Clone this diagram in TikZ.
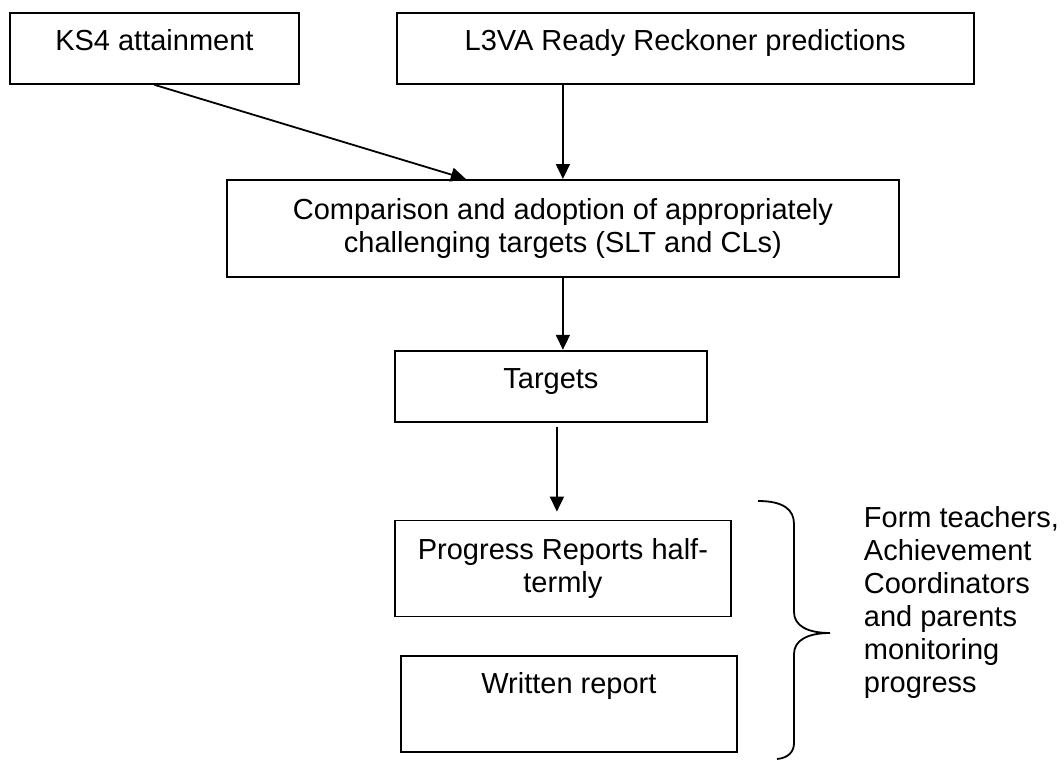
\documentclass[tikz,border=0pt]{standalone}
\usepackage{fontspec}
\setmainfont{Liberation Sans}
\usetikzlibrary{arrows.meta,positioning}

\tikzset{
  box/.style={draw, rectangle, line width=1.8pt, inner sep=0pt, align=center,
    anchor=north west, font=\fontsize{29pt}{33pt}\selectfont},
  oneline/.style={text height=21pt, text depth=16pt}
}

\begin{document}
\begin{tikzpicture}[x=1pt, y=-1pt, line width=1.8pt,
    >={Triangle[length=15pt,width=14pt]}]
      \useasboundingbox (0,0) rectangle (1064,760);

      \node[box, oneline, minimum width=289pt, minimum height=71pt] (ks4) at (9,12) {KS4 attainment};
      \node[box, oneline, minimum width=577pt, minimum height=71pt, right=96pt of ks4.north east, anchor=north west] (l3va) {L3VA Ready Reckoner predictions};

      \node[box, minimum width=672pt, minimum height=97pt] (cmp) at (226,179) {Comparison and adoption of appropriately\\challenging targets (SLT and CLs)};

      \node[box, oneline, minimum width=312pt, minimum height=71pt, below=72pt of cmp.south west, anchor=north west, xshift=168pt] (tgt) {Targets};

      \node[box, minimum width=336pt, minimum height=96pt, below=97pt of tgt.south west, anchor=north west] (prog) {Progress Reports half-\\termly};
      \node[box, minimum width=336pt, minimum height=96pt, below=38pt of prog.south west, anchor=north west, xshift=6pt] (writ) {Written report\\\strut};

      \node[anchor=north west, inner sep=0pt, align=left, font=\fontsize{29pt}{33pt}\selectfont] (who) at (863,506) {Form teachers,\\Achievement\\Coordinators\\and parents\\monitoring\\progress};

      \draw[->] (ks4.south) -- ([xshift=-97pt]cmp.north);
      \draw[->] (l3va.south -| cmp.north) -- (cmp.north);
      \draw[->] (cmp.south) -- (cmp.south |- tgt.north);
      \draw[->] ([xshift=6pt,yshift=-4pt]tgt.south) -- ([xshift=-6pt,yshift=8pt]prog.north);

      \draw (758,501) .. controls (784,501) and (794,510) .. (794,524) -- (794,612)
        .. controls (794,626) and (808,633) .. (830,633)
        .. controls (808,633) and (794,640) .. (794,654) -- (794,743)
        .. controls (794,752) and (788,758) .. (777,759);
    \end{tikzpicture}
\end{document}
